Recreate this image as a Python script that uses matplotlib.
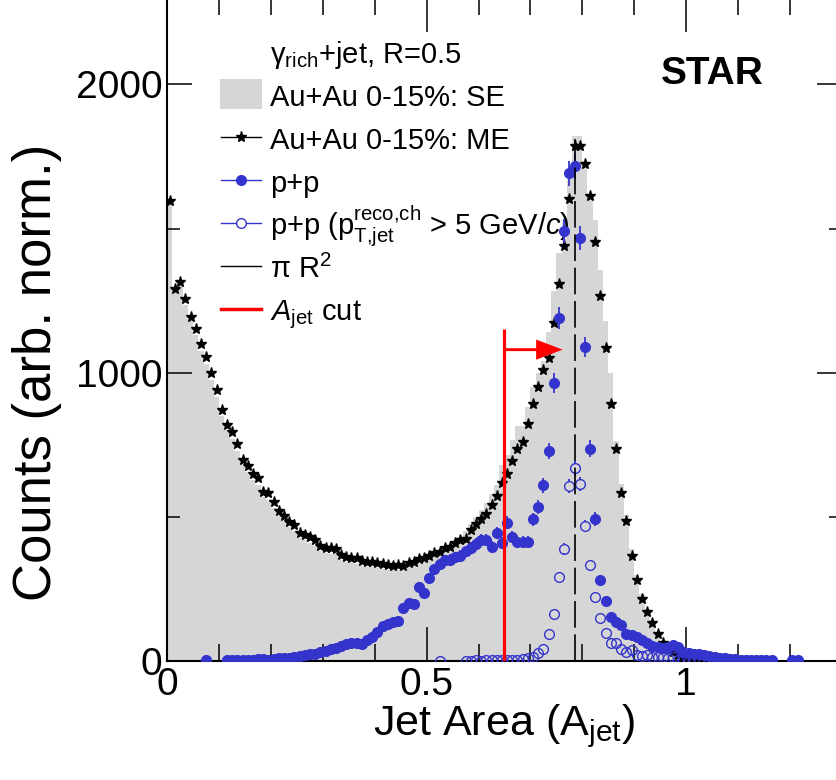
import numpy as np
import matplotlib
matplotlib.use("Agg")
import matplotlib.pyplot as plt
from matplotlib.patches import Rectangle
from matplotlib.ticker import MultipleLocator

nan = np.nan

BIN_WIDTH = 0.01
N_BINS = 130

# Au+Au same-event histogram (grey), one value per 0.01 bin
se_counts = [
    1600, 1280, 1300, 1235, 1180, 1130, 1075, 1030, 975, 915,
    850, 800, 770, 730, 680, 655, 628, 610, 570, 560,
    532, 502, 485, 465, 452, 428, 418, 410, 400, 382,
    375, 372, 370, 352, 345, 340, 338, 330, 326, 325,
    322, 318, 316, 314, 316, 315, 325, 330, 340, 345,
    355, 368, 375, 390, 398, 415, 430, 450, 475, 500,
    525, 548, 580, 610, 680, 715, 765, 815, 815, 880,
    950, 1000, 1040, 1140, 1285, 1415, 1530, 1700, 1822, 1822,
    1735, 1620, 1530, 1355, 1180, 1000, 762, 615, 505, 390,
    300, 232, 180, 140, 100, 70, 50, 35, 24, 16,
    11, 8, 6, 4, 3, 2, 2, 1, 1, 1,
] + [0] * 20

# Au+Au mixed-event (stars)
me_counts = [
    1597, 1290, 1315, 1256, 1194, 1151, 1099, 1054, 999, 940,
    870, 819, 795, 753, 697, 677, 648, 634, 586, 582,
    553, 520, 503, 483, 472, 445, 437, 430, 420, 399,
    392, 392, 390, 368, 362, 357, 357, 347, 344, 343,
    340, 336, 333, 330, 333, 330, 340, 344, 354, 357,
    364, 375, 379, 392, 396, 409, 420, 423, 454, 475,
    493, 510, 540, 573, 618, 649, 694, 735, 761, 822,
    891, 951, 1009, 1051, 1173, 1308, 1439, 1602, 1786, 1786,
    1724, 1614, 1454, 1266, 1086, 891, 735, 583, 486, 365,
    281, 215, 171, 132, 92, 62, 45, 32, 22, 15,
    11, 8, 6, 5, 4, 3, 2, 2, 1, 1,
] + [nan] * 20

# p+p (filled circles)
pp_counts = [
    nan, nan, nan, nan, nan, nan, nan, 3, nan, nan,
    nan, 3, 3, 4, 4, 5, 4, 6, 7, 5,
    8, 9, 10, 12, 14, 17, 20, 23, 26, 30,
    36, 40, 46, 52, 58, 62, 64, 58, 72, 84,
    100, 122, 130, 134, 138, 185, 200, 198, 258, 236,
    288, 320, 335, 350, 352, 360, 365, 380, 392, 405,
    420, 420, 396, 445, 409, 480, 431, 414, 414, 414,
    492, 535, 610, 728, 965, 1190, 1491, 1691, 1717, 1467,
    1089, 736, 492, 281, 209, 154, 136, 125, 94, 90,
    84, 73, 62, 53, 50, 46, 50, 55, 50, 32,
    28, 24, 24, 21, 18, 15, 12, 10, 8, 6,
    5, 5, 4, 4, 4, 3, 3, nan, nan, nan,
    2, 2, nan, nan, nan, nan, nan, nan, nan, nan,
]
pp_err = [0] * 45 + [
    14, 14, 14, 16, 15,
    17, 18, 18, 19, 19, 19, 19, 20, 20, 20,
    21, 21, 20, 21, 20, 22, 21, 21, 21, 21,
    22, 24, 26, 29, 34, 37, 42, 45, 46, 42,
    36, 30, 24, 18, 15, 13, 12, 12, 10, 10,
    10, 9, 8, 8, 7, 7, 7, 8, 7, 6,
] + [0] * 30

# p+p with reco charged jet pT > 5 GeV/c (open circles)
pp_hipt_counts = [nan] * 50 + [
    nan, nan, 1, nan, nan, nan, nan, 1, 1, 2,
    1, 2, 3, 2, 2, 3, 2, 2, 6, 10,
    15, 28, 42, 93, 162, 290, 390, 607, 668, 613,
    468, 333, 221, 149, 96, 61, 64, 40, 32, 38,
    21, 17, 21, 15, 13, 15, 9, 13, 3, 2,
    1, 2, 1, nan, nan, nan, nan, nan, nan, nan,
] + [nan] * 20
pp_hipt_err = [0] * 70 + [
    4, 6, 7, 10, 13, 17, 20, 25, 26, 25,
    22, 18, 15, 12, 10, 8, 8, 6, 6, 6,
    5,
] + [0] * 39

A_CUT = 0.65
CUT_TOP = 1150
ARROW_Y = 1080
ARROW_TIP = 0.762
JET_R = 0.5
PI_R2_TOP = 1810
MARKER_GAP = 16  # open-circle radius in counts, error bars stop at the marker

BLUE = "#3434cc"
GREY = "#d6d6d6"

plt.rcParams["font.family"] = ["Liberation Sans", "DejaVu Sans"]
plt.rcParams["mathtext.fontset"] = "custom"
plt.rcParams["mathtext.rm"] = "Liberation Sans"
plt.rcParams["mathtext.it"] = "Liberation Sans:italic"
plt.rcParams["mathtext.bf"] = "Liberation Sans:bold"

edges = np.arange(N_BINS + 1) * BIN_WIDTH
centers = edges[:-1] + BIN_WIDTH / 2
pp_hipt = np.array(pp_hipt_counts, dtype=float)
hipt_err = np.array(pp_hipt_err, dtype=float)

fig = plt.figure(figsize=(8.36, 7.8), dpi=100)
ax = fig.add_axes([0.2001, 0.15256, 0.8067, 0.8501])

ax.stairs(se_counts, edges, fill=True, color=GREY, lw=0, zorder=1)
ax.plot(centers, me_counts, ls="none", marker="*", ms=8, color="k", zorder=3)
ax.errorbar(centers, pp_counts, yerr=pp_err, fmt="o", ms=7, color=BLUE,
            elinewidth=1.3, capsize=0, zorder=4)
has_bar = hipt_err > MARKER_GAP
ax.vlines(centers[has_bar], pp_hipt[has_bar] + MARKER_GAP, pp_hipt[has_bar] + hipt_err[has_bar],
          colors=BLUE, lw=1.3, zorder=4)
ax.vlines(centers[has_bar], pp_hipt[has_bar] - hipt_err[has_bar], pp_hipt[has_bar] - MARKER_GAP,
          colors=BLUE, lw=1.3, zorder=4)
ax.plot(centers, pp_hipt, ls="none", marker="o", ms=7, mfc="none", mec=BLUE, mew=1.0, zorder=4)

ax.vlines(np.pi * JET_R**2, 0, PI_R2_TOP, colors="k", lw=1.2, linestyles=(0, (16, 4)), zorder=5)
ax.vlines(A_CUT, 0, CUT_TOP, colors="red", lw=2.3, zorder=6)
ax.arrow(A_CUT, ARROW_Y, ARROW_TIP - A_CUT, 0, width=10, head_width=70, head_length=0.051,
         length_includes_head=True, color="red", lw=0, zorder=6)

ax.set_xlim(0, 1.3)
ax.set_ylim(0, 2300)
ax.set_xticks([0, 0.5, 1])
ax.set_xticklabels(["0", "0.5", "1"])
ax.xaxis.set_minor_locator(MultipleLocator(0.1))
ax.set_yticks([0, 1000, 2000])
ax.yaxis.set_minor_locator(MultipleLocator(500))
ax.tick_params(axis="x", which="major", length=24.5, width=1.1, direction="in",
               top=True, labelsize=28, pad=4)
ax.tick_params(axis="x", which="minor", length=12.2, width=1.1, direction="in", top=True)
ax.tick_params(axis="y", which="major", length=18, width=1.1, direction="in",
               right=True, labelsize=28, pad=3.5)
ax.tick_params(axis="y", which="minor", length=9.4, width=1.1, direction="in", right=True)
for side in ax.spines.values():
    side.set_linewidth(1.5)

ax.set_xlabel(r"Jet Area ($\mathrm{A}_{\mathrm{jet}}$)", fontsize=31)
ax.xaxis.set_label_coords(0.5, -0.063)
ax.set_ylabel("Counts (arb. norm.)", fontsize=38)
ax.yaxis.set_label_coords(-0.156, 0.436)

ax.text(0.8077, 0.885, "STAR", fontsize=28, fontweight="bold",
        ha="center", va="center", transform=ax.transAxes)

# legend, drawn ROOT style without a frame
leg_x0, leg_x1 = 0.0796, 0.139
leg_mid = (leg_x0 + leg_x1) / 2
leg_text_x = 0.1523
leg_base = 0.9026
leg_step = 0.06485
leg_labels = [
    r"$\mathrm{\gamma}_{\mathrm{rich}}$+jet, R=0.5",
    "Au+Au 0-15%: SE",
    "Au+Au 0-15%: ME",
    "p+p",
    r"p+p ($\mathrm{p}_{\mathrm{T{,}jet}}^{\mathrm{reco{,}ch}}$ > 5 GeV/$c$)",
    r"$\mathrm{\pi}\ \mathrm{R}^{2}$",
    r"$A_{\mathrm{jet}}$ cut",
]
for k, label in enumerate(leg_labels):
    base = leg_base - k * leg_step
    hy = base + 0.0173
    ax.text(leg_text_x, base, label, fontsize=21, ha="left", va="baseline",
            transform=ax.transAxes)
    line_kw = dict(transform=ax.transAxes, clip_on=False, zorder=7)
    if k == 1:
        ax.add_patch(Rectangle((leg_x0 - 0.0015, hy - 0.0226), 0.0625, 0.0452,
                               transform=ax.transAxes, color=GREY, lw=0, clip_on=False))
    elif k == 2:
        ax.plot([leg_x0, leg_x1], [hy, hy], color="k", lw=1.0, **line_kw)
        ax.plot([leg_mid], [hy], marker="*", ms=8, color="k", **line_kw)
    elif k == 3:
        ax.plot([leg_x0, leg_x1], [hy, hy], color=BLUE, lw=1.0, **line_kw)
        ax.plot([leg_mid], [hy], marker="o", ms=7, color=BLUE, **line_kw)
    elif k == 4:
        ax.plot([leg_x0, leg_x1], [hy, hy], color=BLUE, lw=1.0, **line_kw)
        ax.plot([leg_mid], [hy], marker="o", ms=7, mfc="white", mec=BLUE, mew=1.0, **line_kw)
    elif k == 5:
        ax.plot([leg_x0, leg_x1], [hy, hy], color="k", lw=1.0, **line_kw)
    elif k == 6:
        ax.plot([leg_x0, leg_x1], [hy, hy], color="red", lw=2.5, **line_kw)

fig.savefig("out.png", dpi=100)
